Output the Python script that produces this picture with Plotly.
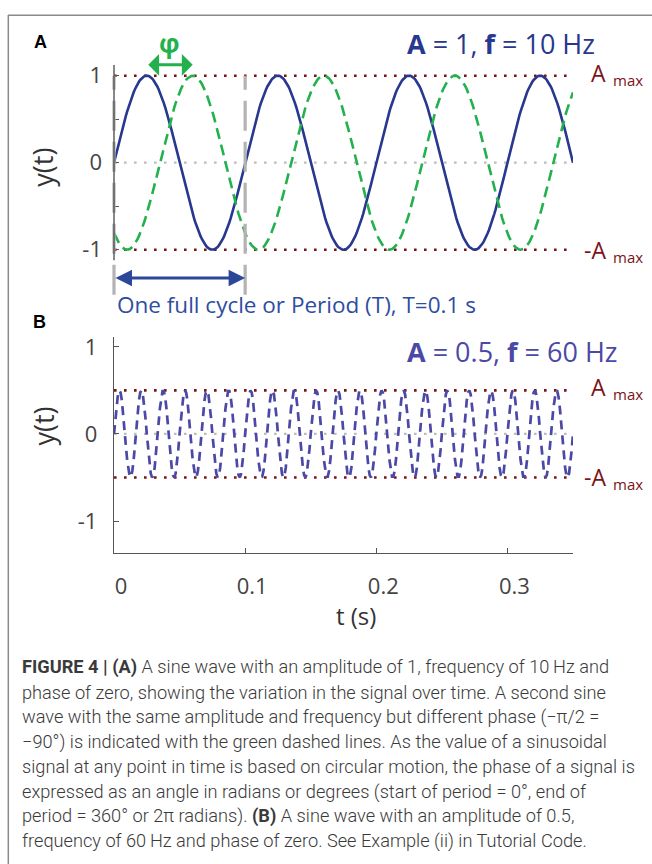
import numpy as np
import plotly.graph_objects as go

# ---- signal parameters -------------------------------------------------
T_END = 0.35            # length of the time axis (s)
FS = 1000               # sampling rate (Hz)

A_AMP = 1.0             # panel A amplitude
A_FREQ = 10             # panel A frequency (Hz)
A_PHASE_REF = 0.0       # solid wave phase (rad)
A_PHASE_SHIFT = -0.7 * np.pi   # dashed wave phase (rad)

B_AMP = 0.5             # panel B amplitude
B_FREQ = 60             # panel B frequency (Hz)
B_PHASE = 0.0

PERIOD = 1.0 / A_FREQ
PERIOD_MARKS = [0.0, PERIOD]

X_TICKS = [0, 0.1, 0.2, 0.3]
X_TICK_TEXT = ["0", "0.1", "0.2", "0.3"]
YA_TICKS = [-1, -0.5, 0, 0.5, 1]
YA_TICK_TEXT = ["-1", "", "0", "", "1"]
YB_TICKS = [-1, 0, 1]
YB_TICK_TEXT = ["-1", "0", "1"]

BOLD = '<span style="font-family:Roboto;font-weight:bold">{}</span>'
CAPTION = [
    BOLD.format("FIGURE 4 | (A)") + " A sine wave with an amplitude of 1, frequency of 10\u2009Hz and",
    "phase of zero, showing the variation in the signal over time. A second sine",
    "wave with the same amplitude and frequency but different phase (\u2212\u03c0/2 =",
    "\u221290\u00b0) is indicated with the green dashed lines. As the value of a sinusoidal",
    "signal at any point in time is based on circular motion, the phase of a signal is",
    "expressed as an angle in radians or degrees (start of period = 0\u00b0, end of",
    "period = 360\u00b0 or 2\u03c0 radians). " + BOLD.format("(B)") + " A sine wave with an amplitude of 0.5,",
    "frequency of 60\u2009Hz and phase of zero. See Example (ii) in Tutorial Code.",
]

# ---- derived series ------------------------------------------------------
t = np.arange(0, T_END + 0.5 / FS, 1.0 / FS)
ya_ref = A_AMP * np.sin(2 * np.pi * A_FREQ * t + A_PHASE_REF)
ya_shift = A_AMP * np.sin(2 * np.pi * A_FREQ * t + A_PHASE_SHIFT)
yb = B_AMP * np.sin(2 * np.pi * B_FREQ * t + B_PHASE)

# first peak of each panel-A wave (ends of the phase arrow)
peak_ref = (np.pi / 2 - A_PHASE_REF) / (2 * np.pi * A_FREQ)
peak_shift = (np.pi / 2 - A_PHASE_SHIFT) / (2 * np.pi * A_FREQ)

# ---- page geometry ---------------------------------------------------------
W, H = 652, 864
def px(x):
    return x / W
def py(y):
    return 1 - y / H

NAVY = "#27388e"
GREEN = "#22b14c"
PURPLE = "#4b48a6"
MAROON = "#7a1417"
LIGHT_GRAY = "#bdbdbd"
AXIS = "#555555"
TICK_FONT = dict(family="Open Sans", size=22, color="#444444")
DOT = "2.6px,7.4px"

fig = go.Figure()

def hline(level, color, xa, ya, width=2.6):
    fig.add_trace(go.Scatter(x=[0, T_END], y=[level, level], mode="lines",
                             line=dict(color=color, width=width, dash=DOT),
                             xaxis=xa, yaxis=ya, hoverinfo="skip"))

# panel A
hline(0, LIGHT_GRAY, "x", "y", 2.2)
hline(A_AMP, MAROON, "x", "y")
hline(-A_AMP, MAROON, "x", "y")
fig.add_trace(go.Scatter(x=t, y=ya_ref, mode="lines",
                         line=dict(color=NAVY, width=2.6), xaxis="x", yaxis="y"))
fig.add_trace(go.Scatter(x=t, y=ya_shift, mode="lines",
                         line=dict(color=GREEN, width=2.6, dash="11px,6px"),
                         xaxis="x", yaxis="y"))

# panel B
hline(0, LIGHT_GRAY, "x2", "y2", 2.2)
hline(B_AMP, MAROON, "x2", "y2")
hline(-B_AMP, MAROON, "x2", "y2")
fig.add_trace(go.Scatter(x=t, y=yb, mode="lines",
                         line=dict(color=PURPLE, width=2.7, dash="9px,6px"),
                         xaxis="x2", yaxis="y2"))

X_DOM = [px(114), px(573)]
A_RANGE = [-1.52, 1.125]
B_RANGE = [-1.37, 1.11]

fig.update_layout(
    width=W, height=H, margin=dict(l=0, r=0, t=0, b=0),
    paper_bgcolor="white", plot_bgcolor="white", showlegend=False,
    xaxis=dict(domain=X_DOM, range=[0, T_END], visible=False, anchor="y"),
    yaxis=dict(domain=[py(290.3), py(58.3)], range=A_RANGE, anchor="x",
               showline=False, showgrid=False, zeroline=False,
               tickmode="array", tickvals=YA_TICKS, ticktext=YA_TICK_TEXT,
               ticks="inside", ticklen=5, tickwidth=1.2, tickcolor=AXIS,
               tickfont=TICK_FONT, ticklabelstandoff=11),
    xaxis2=dict(domain=X_DOM, range=[0, T_END], anchor="y2",
                showline=True, linecolor=AXIS, linewidth=1.4,
                showgrid=False, zeroline=False,
                tickmode="array", tickvals=X_TICKS, ticktext=X_TICK_TEXT,
                ticks="inside", ticklen=5, tickwidth=1.2, tickcolor=AXIS,
                tickfont=TICK_FONT, ticklabelstandoff=13, ticklabelshift=7),
    yaxis2=dict(domain=[py(550.7), py(333)], range=B_RANGE, anchor="x2",
                showline=True, linecolor=AXIS, linewidth=1.4,
                showgrid=False, zeroline=False,
                tickmode="array", tickvals=YB_TICKS, ticktext=YB_TICK_TEXT,
                ticks="inside", ticklen=5, tickwidth=1.2, tickcolor=AXIS,
                tickfont=TICK_FONT, ticklabelstandoff=11),
)

shapes = []
# period markers (gray dashed verticals)
for tm in PERIOD_MARKS:
    shapes.append(dict(type="line", xref="x domain", yref="y",
                       x0=tm / T_END, x1=tm / T_END, y0=-1.517, y1=A_AMP,
                       line=dict(color="#b3b3b3", width=3.2, dash="30px,11px")))
# left spine of panel A
shapes.append(dict(type="line", xref="x domain", yref="y", x0=0, x1=0,
                   y0=-1.12, y1=1.125, line=dict(color=AXIS, width=1.4)))
# page frame
shapes.append(dict(type="line", xref="paper", yref="paper",
                   x0=px(8), x1=1, y0=py(8.3), y1=py(8.3),
                   line=dict(color="#8a8a8a", width=1.5)))
shapes.append(dict(type="line", xref="paper", yref="paper",
                   x0=px(8.3), x1=px(8.3), y0=0, y1=py(8),
                   line=dict(color="#8a8a8a", width=1.5)))
fig.update_layout(shapes=shapes)

ann = []
def text(x, y, s, size, color, family="Open Sans", xanchor="center",
         yanchor="middle", xref="paper", yref="paper", angle=0, yshift=0,
         weight="normal"):
    ann.append(dict(x=x, y=y, text=s, showarrow=False, xref=xref, yref=yref,
                    xanchor=xanchor, yanchor=yanchor, textangle=angle,
                    yshift=yshift,
                    font=dict(family=family, size=size, color=color,
                              weight=weight)))

# panel letters
text(px(40), py(35), "<b>A</b>", 18, "#000000", family="Liberation Sans")
text(px(39), py(318), "<b>B</b>", 18, "#000000", family="Liberation Sans")

# panel titles
text(px(501.5), py(37), "<b>A</b> = 1, <b>f</b> = 10 Hz", 27, NAVY)
text(px(511.5), py(347), "<b>A</b> = 0.5, <b>f</b> = 60 Hz", 27, PURPLE)

# amplitude labels
for yref, amp in (("y", A_AMP), ("y2", B_AMP)):
    text(px(607.5), amp, "A", 23, MAROON, xanchor="right", yref=yref, yshift=3)
    text(px(611), amp, "max", 15, MAROON, xanchor="left", yref=yref, yshift=-4)
    text(px(607.5), -amp, "-A", 23, MAROON, xanchor="right", yref=yref, yshift=0)
    text(px(611), -amp, "max", 15, MAROON, xanchor="left", yref=yref, yshift=-7)

# axis titles
text(px(43), py(161), "y(t)", 27, "#333333", angle=-90)
text(px(44), py(423), "y(t)", 27, "#333333", angle=-90)
text(px(355.5), py(613), "t (s)", 24, "#333333")

# phase arrow and symbol
ann.append(dict(x=peak_shift, y=1.125, ax=peak_ref, ay=1.125,
                xref="x", yref="y", axref="x", ayref="y", text="",
                showarrow=True, arrowside="end+start",
                arrowhead=1, startarrowhead=1, arrowsize=1.2,
                startarrowsize=1.2, arrowwidth=3, arrowcolor=GREEN,
                standoff=0, startstandoff=0))
text((peak_ref + peak_shift) / 2, 1.125, "<b>\u03c6</b>", 26, GREEN,
     xref="x", yref="y", yshift=22)

# period arrow and label
ann.append(dict(x=PERIOD_MARKS[1], y=-1.326, ax=PERIOD_MARKS[0], ay=-1.326,
                xref="x", yref="y", axref="x", ayref="y", text="",
                showarrow=True, arrowside="end+start",
                arrowhead=2, startarrowhead=2, arrowsize=1.1,
                startarrowsize=1.1, arrowwidth=3, arrowcolor="#2c4699",
                standoff=0, startstandoff=0))
text(px(115), py(300), "One full cycle or Period (T), T=0.1 s", 22.5,
     "#2f4d9f", xanchor="left")

# caption
for i, line in enumerate(CAPTION):
    text(px(20), py(665.5 + 25.1 * i), line, 18.2, "#3a3a3a",
         family="Roboto Light, Roboto", xanchor="left", weight=300)

fig.update_layout(annotations=ann)
fig.write_html("out.html")
